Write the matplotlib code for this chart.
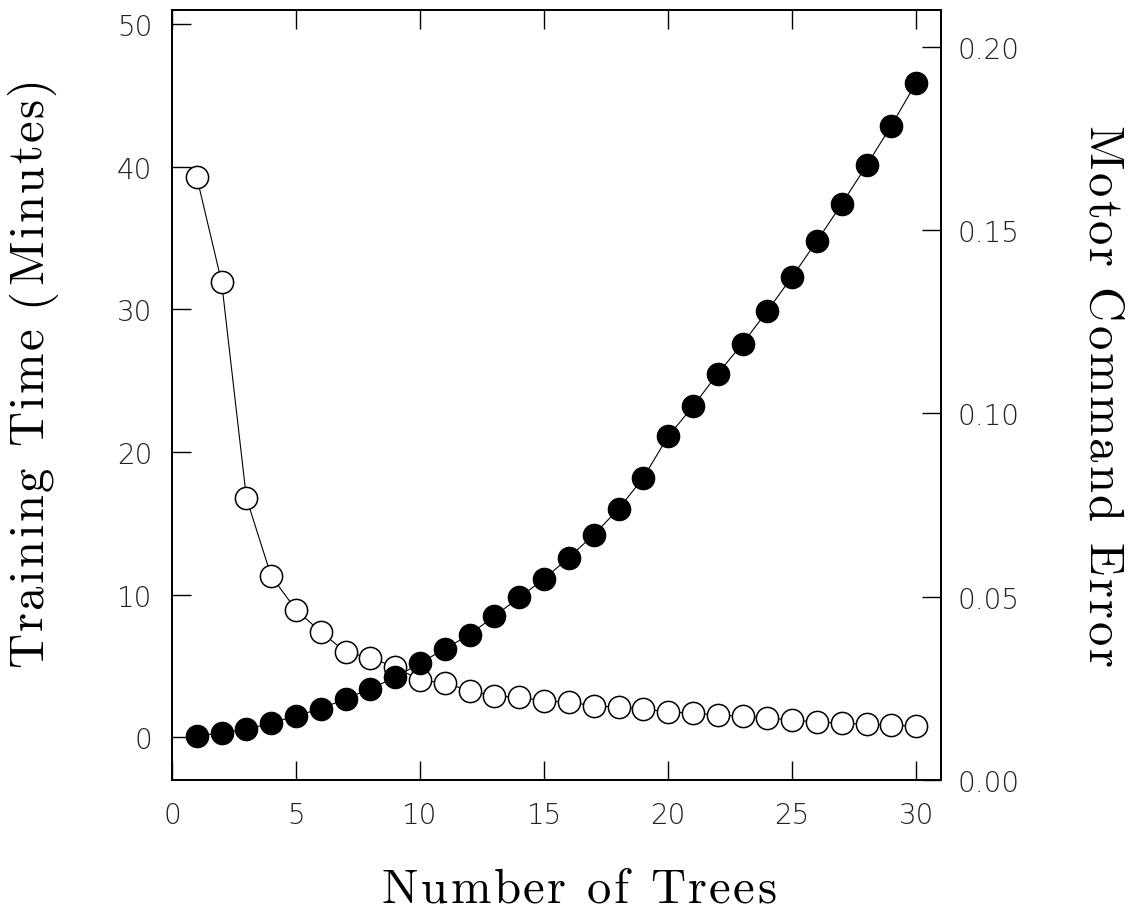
import numpy as np
import matplotlib as mpl
mpl.use('Agg')
from matplotlib import pyplot as plt
from matplotlib.font_manager import FontProperties, findfont, get_font
from matplotlib.transforms import IdentityTransform

trees = list(range(1, 31))
# filled circles: training time (minutes), left axis
train_time = [0.1, 0.3, 0.55, 1.0, 1.5, 2.0, 2.7, 3.4, 4.2, 5.2,
              6.2, 7.2, 8.5, 9.8, 11.1, 12.6, 14.2, 16.0, 18.2, 21.1,
              23.2, 25.5, 27.6, 29.9, 32.3, 34.8, 37.4, 40.1, 42.9, 45.9]
# open circles: motor command error, right axis
motor_error = [0.1644, 0.1358, 0.0769, 0.0556, 0.0464, 0.0404, 0.0349, 0.0333, 0.0308, 0.0272,
               0.0265, 0.0243, 0.0229, 0.0226, 0.0215, 0.0213, 0.0202, 0.0199, 0.0194, 0.0185,
               0.0183, 0.0177, 0.0174, 0.0169, 0.0164, 0.0158, 0.0155, 0.0152, 0.0150, 0.0147]

x_ticks = [0, 5, 10, 15, 20, 25, 30]
left_ticks = [0, 10, 20, 30, 40, 50]
right_ticks = [0.00, 0.05, 0.10, 0.15, 0.20]

xlabel = 'Number of Trees'
ylabel_left = 'Training Time (Minutes)'
ylabel_right = 'Motor Command Error'

tick_fp = FontProperties(family='DejaVu Sans', size=20, weight='light')
LABEL_SIZE = 35
TRACKING = 2.5   # extra px between letters, the scan has wide letter spacing

W, H = 1133, 912
fig = plt.figure(figsize=(W / 100, H / 100), dpi=100)


def spaced_text(s, cx, cy, rotation):
    """draw s letter by letter, centred on (cx, cy) px from top-left, baseline through it"""
    fp = FontProperties(family='cmr10', size=LABEL_SIZE)
    font = get_font(findfont(fp))
    font.set_size(LABEL_SIZE, fig.dpi)
    adv = [font.load_char(ord(c)).linearHoriAdvance / 65536.0 for c in s]
    total = sum(adv) + TRACKING * (len(s) - 1)
    d = {0: (1, 0), 90: (0, 1), 270: (0, -1)}[rotation]
    pos = -total / 2.0
    for c, a in zip(s, adv):
        if c != ' ':
            fig.text(cx + d[0] * pos, (H - cy) + d[1] * pos, c, fontproperties=fp,
                     rotation=rotation, rotation_mode='anchor',
                     ha='left', va='baseline', transform=IdentityTransform())
        pos += a + TRACKING


ax = fig.add_axes([172 / W, 1 - 781 / H, (941 - 172) / W, (781 - 11) / H])
ax2 = ax.twinx()

ax2.plot(trees, motor_error, '-', color='black', lw=0.8,
         marker='o', ms=16, mfc='white', mec='black', mew=1.1, zorder=2)
ax.plot(trees, train_time, '-', color='black', lw=0.8,
        marker='o', ms=16, mfc='black', mec='black', zorder=3)
ax.set_zorder(ax2.get_zorder() + 1)
ax.patch.set_visible(False)

ax.set_xlim(0, 31)
ax.set_ylim(-3, 51)
ax2.set_ylim(0, 0.21)

ax.set_xticks(x_ticks)
ax.set_yticks(left_ticks)
ax2.set_yticks(right_ticks)
ax2.set_yticklabels(['%.2f' % v for v in right_ticks])

ax.tick_params(axis='x', direction='in', length=14, width=1, top=True, pad=15)
ax.tick_params(axis='y', direction='in', length=14, width=1, right=False, pad=14)
ax2.tick_params(axis='y', direction='in', length=14, width=1, pad=12)
for lab in ax.get_xticklabels() + ax.get_yticklabels() + ax2.get_yticklabels():
    lab.set_fontproperties(tick_fp)
    lab.set_color('#222222')

for a in (ax, ax2):
    for sp in a.spines.values():
        sp.set_linewidth(1.3)

## -- axis labels (baseline points in px from top-left) -- ##
spaced_text(xlabel, 579, 903, 0)
spaced_text(ylabel_left, 42, 372, 90)
spaced_text(ylabel_right, 1088, 397, 270)

fig.savefig('out.png', dpi=100)
